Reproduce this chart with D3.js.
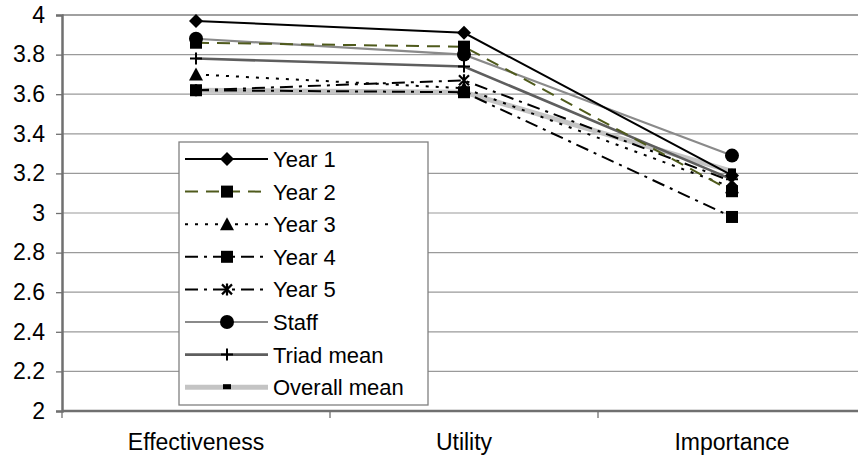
<!DOCTYPE html>
<html>
<head>
<meta charset="utf-8">
<script src="https://cdn.jsdelivr.net/npm/d3@7"></script>
<style>
  html, body { margin: 0; padding: 0; background: #fff; }
  svg { display: block; font-family: Arial, "Liberation Sans", sans-serif; }
</style>
</head>
<body>
<svg id="chart" width="858" height="456"></svg>
<script>
// Survey dimensions along the x axis
const categories = ["Effectiveness", "Utility", "Importance"];

// Mean ratings per group, one value per dimension
const year1 = [3.97, 3.91, 3.19];
const year2 = [3.86, 3.84, 3.11];
const year3 = [3.70, 3.63, 3.13];
const year4 = [3.62, 3.61, 2.98];
const year5 = [3.62, 3.67, 3.16];
const staff = [3.88, 3.80, 3.29];
const triadMean = [3.78, 3.74, 3.17];
const overallMean = [3.62, 3.61, 3.21];

const seriesNames = ["Year 1", "Year 2", "Year 3", "Year 4", "Year 5", "Staff", "Triad mean", "Overall mean"];
const yTicks = [2, 2.2, 2.4, 2.6, 2.8, 3, 3.2, 3.4, 3.6, 3.8, 4];
const yTickLabels = ["2", "2.2", "2.4", "2.6", "2.8", "3", "3.2", "3.4", "3.6", "3.8", "4"];

// Visual style for each series
const styles = {
  "Year 1":       { values: year1, stroke: "#000", width: 2, dash: null, marker: "diamond" },
  "Year 2":       { values: year2, stroke: "#4f5a1c", width: 2, dash: "13,8", marker: "square" },
  "Year 3":       { values: year3, stroke: "#000", width: 2, dash: "3,7", marker: "triangle" },
  "Year 4":       { values: year4, stroke: "#000", width: 2, dash: "13,6,3,6", marker: "square" },
  "Year 5":       { values: year5, stroke: "#000", width: 2, dash: "13,6,3,6", marker: "star" },
  "Staff":        { values: staff, stroke: "#8a8a8a", width: 2.2, dash: null, marker: "circle" },
  "Triad mean":   { values: triadMean, stroke: "#5e5e5e", width: 2.6, dash: null, marker: "plus" },
  "Overall mean": { values: overallMean, stroke: "#c4c4c4", width: 5, dash: null, marker: "bar" }
};

const svg = d3.select("#chart");
const plot = { left: 62, right: 866, top: 15, bottom: 411 };

const x = d3.scaleBand().domain(categories).range([plot.left, plot.right]).padding(0);
const y = d3.scaleLinear().domain([2, 4]).range([plot.bottom, plot.top]);
const cx = c => x(c) + x.bandwidth() / 2;

// Horizontal gridlines
svg.append("g").selectAll("line")
  .data(yTicks.filter(v => v > 2))
  .join("line")
  .attr("x1", plot.left).attr("x2", 858)
  .attr("y1", d => y(d)).attr("y2", d => y(d))
  .attr("stroke", d => d === 4 ? "#a0a0a0" : "#9a9a9a")
  .attr("stroke-width", d => d === 4 ? 2 : 1.2);

// Y axis
const yAxis = d3.axisLeft(y)
  .tickValues(yTicks)
  .tickFormat((d, i) => yTickLabels[i])
  .tickSize(6)
  .tickPadding(11);
const yg = svg.append("g").attr("transform", `translate(${plot.left},0)`).call(yAxis);
yg.select(".domain").attr("stroke", "#707070").attr("stroke-width", 2.5);
yg.selectAll(".tick line").attr("stroke", "#707070").attr("stroke-width", 1.3);
yg.selectAll(".tick text").attr("fill", "#000").style("font-size", "23px")
  .style("font-family", "Arial, 'Liberation Sans', sans-serif");

// X axis: ticks at the category boundaries
const xg = svg.append("g");
xg.append("line")
  .attr("x1", plot.left).attr("x2", 858)
  .attr("y1", plot.bottom).attr("y2", plot.bottom)
  .attr("stroke", "#707070").attr("stroke-width", 2.5);
xg.selectAll("line.tk")
  .data(categories)
  .join("line").attr("class", "tk")
  .attr("x1", d => x(d)).attr("x2", d => x(d))
  .attr("y1", plot.bottom).attr("y2", plot.bottom + 7)
  .attr("stroke", "#707070").attr("stroke-width", 1.3);
xg.selectAll("text")
  .data(categories)
  .join("text")
  .attr("x", d => cx(d))
  .attr("y", 450)
  .attr("text-anchor", "middle")
  .style("font-size", "23px")
  .attr("fill", "#000")
  .text(d => d);

// Marker drawing
function drawMarker(g, type, px, py) {
  const k = "#000";
  switch (type) {
    case "diamond":
      g.append("path").attr("d", `M${px},${py - 7}L${px + 7},${py}L${px},${py + 7}L${px - 7},${py}Z`).attr("fill", k);
      break;
    case "square":
      g.append("rect").attr("x", px - 6).attr("y", py - 6).attr("width", 12).attr("height", 12).attr("fill", k);
      break;
    case "triangle":
      g.append("path").attr("d", `M${px},${py - 7}L${px + 7},${py + 6}L${px - 7},${py + 6}Z`).attr("fill", k);
      break;
    case "star":
      g.append("path")
        .attr("d", `M${px - 5},${py - 5}L${px + 5},${py + 5}M${px + 5},${py - 5}L${px - 5},${py + 5}M${px},${py - 6}L${px},${py + 6}`)
        .attr("stroke", k).attr("stroke-width", 2.2).attr("fill", "none");
      break;
    case "circle":
      g.append("circle").attr("cx", px).attr("cy", py).attr("r", 7).attr("fill", k);
      break;
    case "plus":
      g.append("path")
        .attr("d", `M${px - 6},${py}L${px + 6},${py}M${px},${py - 6}L${px},${py + 6}`)
        .attr("stroke", k).attr("stroke-width", 2).attr("fill", "none");
      break;
    case "bar":
      g.append("rect").attr("x", px - 4).attr("y", py - 3).attr("width", 8).attr("height", 5).attr("fill", k);
      break;
  }
}

const line = d3.line().x(d => cx(d.c)).y(d => y(d.v));
const drawOrder = ["Overall mean", "Staff", "Triad mean", "Year 5", "Year 4", "Year 3", "Year 2", "Year 1"];

// Series lines
const linesG = svg.append("g");
drawOrder.forEach(name => {
  const s = styles[name];
  const pts = categories.map((c, i) => ({ c, v: s.values[i] }));
  linesG.append("path")
    .datum(pts)
    .attr("d", line)
    .attr("fill", "none")
    .attr("stroke", s.stroke)
    .attr("stroke-width", s.width)
    .attr("stroke-dasharray", s.dash);
});

// Series markers
const markG = svg.append("g");
drawOrder.forEach(name => {
  const s = styles[name];
  categories.forEach((c, i) => drawMarker(markG, s.marker, cx(c), y(s.values[i])));
});

// Legend
const legend = { x: 179, y: 142, w: 249, h: 263, row0: 159, step: 32.6 };
const lg = svg.append("g");
lg.append("rect")
  .attr("x", legend.x).attr("y", legend.y)
  .attr("width", legend.w).attr("height", legend.h)
  .attr("fill", "#fff").attr("stroke", "#808080").attr("stroke-width", 1.3);
seriesNames.forEach((name, i) => {
  const s = styles[name];
  const ly = legend.row0 + i * legend.step;
  lg.append("line")
    .attr("x1", 185).attr("x2", 268)
    .attr("y1", ly).attr("y2", ly)
    .attr("stroke", s.stroke)
    .attr("stroke-width", s.width)
    .attr("stroke-dasharray", s.dash);
  drawMarker(lg, s.marker, 227, ly);
  lg.append("text")
    .attr("x", 273).attr("y", ly + 8)
    .style("font-size", "22px")
    .attr("fill", "#000")
    .text(name);
});
</script>
</body>
</html>
